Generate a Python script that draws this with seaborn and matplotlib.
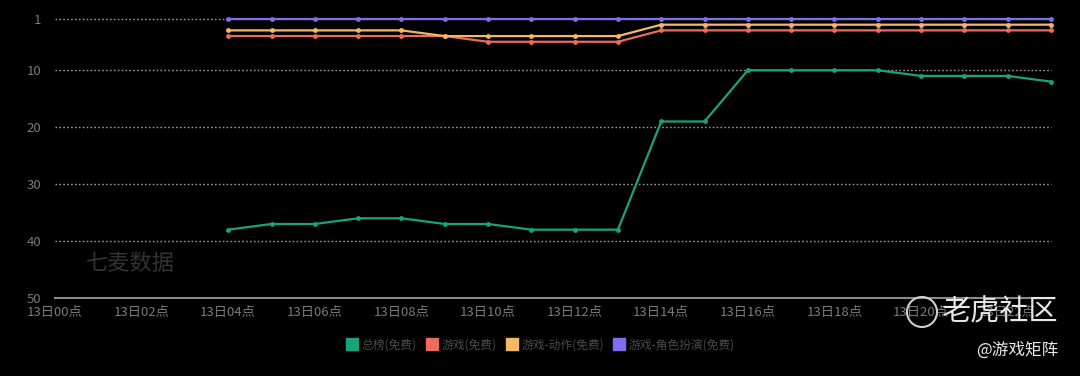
import matplotlib
matplotlib.use("Agg")
import matplotlib.pyplot as plt
from matplotlib.lines import Line2D
from matplotlib.patches import Ellipse
import seaborn as sns
import pandas as pd

sns.set_theme(style="dark")
plt.rcParams['font.family'] = ['Noto Sans CJK SC', 'DejaVu Sans']

hours = list(range(4, 24))
series_names = ["总榜(免费)", "游戏(免费)", "游戏-动作(免费)", "游戏-角色扮演(免费)"]
total_rank = [38, 37, 37, 36, 36, 37, 37, 38, 38, 38, 19, 19, 10, 10, 10, 10, 11, 11, 11, 12]
game_rank = [4, 4, 4, 4, 4, 4, 5, 5, 5, 5, 3, 3, 3, 3, 3, 3, 3, 3, 3, 3]
action_rank = [3, 3, 3, 3, 3, 4, 4, 4, 4, 4, 2, 2, 2, 2, 2, 2, 2, 2, 2, 2]
rpg_rank = [1] * 20
tick_hours = list(range(0, 24, 2))
tick_labels = [f"13日{h:02d}点" for h in tick_hours]
y_ticks = [1, 10, 20, 30, 40, 50]
colors = ["#19a37c", "#ec6b5e", "#f2b866", "#7d6ff0"]

rows = []
for name, vals in zip(series_names, [total_rank, game_rank, action_rank, rpg_rank]):
    for h, v in zip(hours, vals):
        rows.append({"hour": h, "rank": v, "series": name})
df = pd.DataFrame(rows)

fig = plt.figure(figsize=(10.8, 3.76), dpi=100, facecolor="black")
ax = fig.add_axes([55/1080, 1-298/376, (1051-55)/1080, (298-19)/376])
ax.set_facecolor("black")

# grid lines
for yv in [1, 10, 20, 30, 40]:
    ax.axhline(yv, color="#9a9a9a", lw=1.0, ls=(0, (1.2, 1.6)), zorder=1, clip_on=False)

sns.lineplot(data=df, x="hour", y="rank", hue="series", hue_order=series_names,
             palette=colors, marker="o", markersize=3.5, markeredgewidth=0,
             linewidth=1.6, ax=ax, legend=False, zorder=3)
for ln in ax.get_lines():
    ln.set_clip_on(False)

ax.set_xlim(0, 23)
ax.set_ylim(50, 1)
ax.set_xticks(tick_hours)
ax.set_xticklabels(tick_labels)
ax.set_yticks(y_ticks)
ax.set_yticklabels([str(v) for v in y_ticks])
ax.tick_params(axis="x", colors="#7a7a7a", labelsize=9.5, length=0, pad=6)
ax.tick_params(axis="y", colors="#7a7a7a", labelsize=9.5, length=0, pad=10)
for lab in ax.get_xticklabels():
    lab.set_color("#7a7a7a")
ax.set_xlabel("")
ax.set_ylabel("")
ax.grid(False)
for s in ["top", "right", "left"]:
    ax.spines[s].set_visible(False)
ax.spines["bottom"].set_color("#8a8a8a")
ax.spines["bottom"].set_linewidth(1.5)

handles = [Line2D([0], [0], marker="s", color="none", markerfacecolor=c,
                  markeredgecolor=c, markersize=9, label=n)
           for c, n in zip(colors, series_names)]
leg = fig.legend(handles=handles, loc="center", bbox_to_anchor=(541/1080, 1-345/376),
                 ncol=4, frameon=False, fontsize=8.5, handlelength=0.8,
                 handletextpad=0.4, columnspacing=0.9, labelcolor="#4a4a4a")

# watermarks
fig.text(86/1080, 1-263/376, "七麦数据", color="#333333", fontsize=16,
         va="center", ha="left")
fig.text(1058/1080, 1-312/376, "老虎社区", color="#e8e8e8", fontsize=21,
         va="center", ha="right")
fig.text(1058/1080, 1-350/376, "@游戏矩阵", color="#e8e8e8", fontsize=12,
         va="center", ha="right")
circ = Ellipse((922/1080, 1-312/376), 30/1080, 30/376, transform=fig.transFigure,
               fill=False, edgecolor="#d0d0d0", lw=1.5)
fig.patches.append(circ)

fig.savefig("out.png", dpi=100, facecolor="black")
